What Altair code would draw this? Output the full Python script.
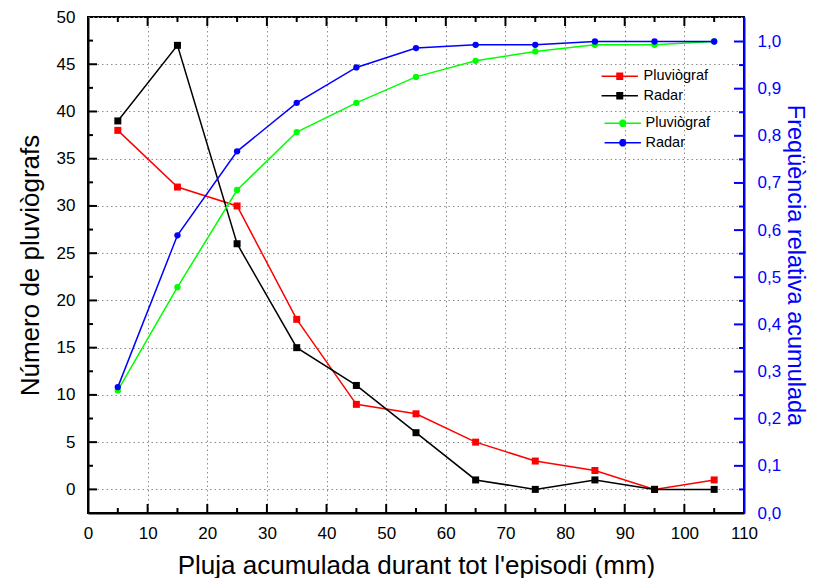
import altair as alt
import pandas as pd

# ---- data ----
x_mm = [5, 15, 25, 35, 45, 55, 65, 75, 85, 95, 105]
pluvio_count = [38, 32, 30, 18, 9, 8, 5, 3, 2, 0, 1]
radar_count = [39, 47, 26, 15, 11, 6, 1, 0, 1, 0, 0]
pluvio_freq = [0.26, 0.479, 0.685, 0.808, 0.870, 0.925, 0.959, 0.979, 0.993, 0.993, 1.0]
radar_freq = [0.267, 0.589, 0.767, 0.870, 0.945, 0.986, 0.993, 0.993, 1.0, 1.0, 1.0]
series = ["Pluviògraf", "Radar"]

x_labels = [0, 10, 20, 30, 40, 50, 60, 70, 80, 90, 100, 110]
left_labels = [0, 5, 10, 15, 20, 25, 30, 35, 40, 45, 50]
right_labels = [0.0, 0.1, 0.2, 0.3, 0.4, 0.5, 0.6, 0.7, 0.8, 0.9, 1.0]
x_ticks_major = [10, 20, 30, 40, 50, 60, 70, 80, 90, 100]
x_ticks_minor = [5, 15, 25, 35, 45, 55, 65, 75, 85, 95, 105]
left_ticks_major = [0, 5, 10, 15, 20, 25, 30, 35, 40, 45]
left_ticks_minor = [2.5, 7.5, 12.5, 17.5, 22.5, 27.5, 32.5, 37.5, 42.5, 47.5]
right_ticks_major = [0.1, 0.2, 0.3, 0.4, 0.5, 0.6, 0.7, 0.8, 0.9, 1.0]
right_ticks_minor = [0.05, 0.15, 0.25, 0.35, 0.45, 0.55, 0.65, 0.75, 0.85, 0.95]

W, H = 656, 496
FONT = "Liberation Sans"

count_df = pd.DataFrame({
    "x": x_mm * 2,
    "v": pluvio_count + radar_count,
    "serie": [series[0]] * len(x_mm) + [series[1]] * len(x_mm),
})
freq_df = pd.DataFrame({
    "x": x_mm * 2,
    "v": pluvio_freq + radar_freq,
    "serie2": [series[0]] * len(x_mm) + [series[1]] * len(x_mm),
})

def tdf(vals):
    return pd.DataFrame({"t": vals})

x_scale = alt.Scale(domain=[0, 110], nice=False, zero=False)
yl_scale = alt.Scale(domain=[-2.5, 50], nice=False, zero=False)
yr_scale = alt.Scale(domain=[0, 1.052], nice=False, zero=False)

x_axis = alt.Axis(
    title="Pluja acumulada durant tot l'episodi (mm)", values=x_labels, ticks=False,
    labelFontSize=17, labelPadding=12, labelColor="#000", titleFontSize=26,
    titleFontWeight="normal", titlePadding=11, titleColor="#000",
    domainColor="#000", domainWidth=2, grid=True, gridColor="#8c8c8c",
    gridDash=[1.5, 3], gridWidth=1, labelFlush=False,
)
yl_axis = alt.Axis(
    title="Número de pluviògrafs", values=left_labels, ticks=False,
    labelFontSize=17, labelPadding=13, labelColor="#000", titleFontSize=26,
    titleFontWeight="normal", titlePadding=13, titleColor="#000",
    domainColor="#000", domainWidth=2, grid=True, gridColor="#8c8c8c",
    gridDash=[1.5, 3], gridWidth=1, labelFlush=False,
)
yr_axis = alt.Axis(
    title="Freqüència relativa acumulada", orient="right", values=right_labels,
    labelExpr="replace(format(datum.value, '.1f'), '.', ',')", ticks=False,
    labelFontSize=17, labelPadding=13, labelColor="#0000ff", titleFontSize=23.5,
    titleFontWeight="normal", titlePadding=2, titleColor="#0000ff",
    domainColor="#0000ff", domainWidth=2, grid=False, labelFlush=False,
)

SQ_PATH = "M-5.2,0H5.2M-1,-0.857H1M-1,-0.429H1M-1,0.429H1M-1,0.857H1"
CI_PATH = ("M-5.2,0H5.2M-0.977,-0.214H0.977M-0.977,0.214H0.977"
           "M-0.903,-0.429H0.903M-0.903,0.429H0.903M-0.766,-0.643H0.766"
           "M-0.766,0.643H0.766M-0.515,-0.857H0.515M-0.515,0.857H0.515")

def make_legend(path, lx, ly, loff):
    return alt.Legend(
        title=None, orient="none", legendX=lx, legendY=ly, symbolType=path,
        symbolSize=49, symbolStrokeWidth=1.5, labelFontSize=14.5, labelOffset=loff,
        padding=0, rowPadding=4.5, labelColor="#000", labelFont=FONT,
    )

xenc = alt.X("x:Q", scale=x_scale, axis=x_axis)

# ---- left group (counts) ----
lcolor_scale = alt.Scale(domain=series, range=["#ff0000", "#000000"])
left_lines = alt.Chart(count_df).mark_line(strokeWidth=1.5).encode(
    x=xenc,
    y=alt.Y("v:Q", scale=yl_scale, axis=yl_axis),
    color=alt.Color("serie:N", scale=lcolor_scale,
                    legend=make_legend(SQ_PATH, 524.5, 52, 16.5)),
    detail="serie:N",
)
left_pts = alt.Chart(count_df).mark_point(shape="square", filled=True, size=49, opacity=1).encode(
    x=xenc,
    y=alt.Y("v:Q", scale=yl_scale, axis=yl_axis),
    color=alt.Color("serie:N", scale=lcolor_scale, legend=None),
)

def xticks(vals, top, length):
    if top:
        y0, y1 = 0, length
    else:
        y0, y1 = H, H - length
    return alt.Chart(tdf(vals)).mark_rule(color="#000", strokeWidth=2).encode(
        x=alt.X("t:Q", scale=x_scale, axis=x_axis),
        y=alt.value(y0), y2=alt.value(y1),
    )

def lticks(vals, length):
    return alt.Chart(tdf(vals)).mark_rule(color="#000", strokeWidth=2).encode(
        y=alt.Y("t:Q", scale=yl_scale, axis=yl_axis),
        x=alt.value(0), x2=alt.value(length),
    )

def rticks(vals, length):
    return alt.Chart(tdf(vals)).mark_rule(color="#0000ff", strokeWidth=2).encode(
        y=alt.Y("t:Q", scale=yr_scale, axis=yr_axis),
        x=alt.value(W), x2=alt.value(W - length),
    )

left_group = alt.layer(
    left_lines, left_pts,
    xticks(x_ticks_major, False, 9), xticks(x_ticks_minor, False, 5),
    xticks(x_ticks_major, True, 9), xticks(x_ticks_minor, True, 5),
    lticks(left_ticks_major, 9), lticks(left_ticks_minor, 5),
)

# ---- right group (cumulative relative frequency) ----
rcolor_scale = alt.Scale(domain=series, range=["#00ff00", "#0000ff"])
right_lines = alt.Chart(freq_df).mark_line(strokeWidth=1.5).encode(
    x=xenc,
    y=alt.Y("v:Q", scale=yr_scale, axis=yr_axis),
    color=alt.Color("serie2:N", scale=rcolor_scale,
                    legend=make_legend(CI_PATH, 527.5, 99, 15.5)),
    detail="serie2:N",
)
right_pts = alt.Chart(freq_df).mark_point(shape="circle", filled=True, size=40, opacity=1).encode(
    x=xenc,
    y=alt.Y("v:Q", scale=yr_scale, axis=yr_axis),
    color=alt.Color("serie2:N", scale=rcolor_scale, legend=None),
)
right_group = alt.layer(
    right_lines, right_pts,
    rticks(right_ticks_major, 10), rticks(right_ticks_minor, 5),
)

chart = alt.layer(left_group, right_group).resolve_scale(
    y="independent", color="independent"
).properties(
    width=W, height=H,
    autosize=alt.AutoSizeParams(type="none"),
    padding={"left": 80, "top": 9, "right": 67, "bottom": 65},
).configure(font=FONT).configure_view(stroke="#000", strokeWidth=2)

chart.save("out.html", embed_options={"renderer": "svg", "actions": False})
